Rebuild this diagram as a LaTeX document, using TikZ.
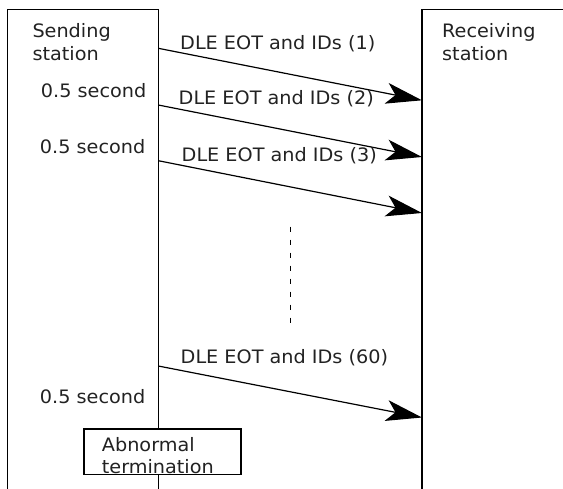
\documentclass[tikz,border=0pt]{standalone}
\usepackage{fontspec}
\setmainfont[FakeStretch=1.04]{DejaVu Sans}
\usetikzlibrary{arrows.meta}
\definecolor{txt}{HTML}{222222}
\tikzset{
  lbl/.style={inner sep=0pt, anchor=base west, text=txt, font=\fontsize{18.5}{22.5}\selectfont},
  rlbl/.style={inner sep=0pt, anchor=base east, text=txt, font=\fontsize{18.5}{22.5}\selectfont},
  frame/.style={line width=1.5pt},
  msg/.style={line width=1.2pt, -{Stealth[length=36pt, width=21pt, inset=9pt]}},
}
\begin{document}
\begin{tikzpicture}[x=1pt,y=-1pt]
\useasboundingbox (0,0) rectangle (563,488);
\clip (0,0) rectangle (563,488);
% station boxes
\draw[frame] (7.3,500) -- (7.3,9.3) -- (158.3,9.3) -- (158.3,500);
\draw[frame] (422,500) -- (422,9.3) -- (580,9.3);
\node[lbl] (snd) at (32.3,37.3) {\begin{tabular}[t]{@{}l@{}}Sending\\[0.5pt]station\end{tabular}};
\node[lbl] (rcv) at (442,37.3) {\begin{tabular}[t]{@{}l@{}}Receiving\\[0.5pt]station\end{tabular}};
% end points
\coordinate (s1) at (158.3,48.3);  \coordinate (r1) at (422,100.3);
\coordinate (s2) at (158.3,105);   \coordinate (r2) at (422,157);
\coordinate (s3) at (158.3,160.7); \coordinate (r3) at (422,213);
\coordinate (s60) at (158.3,366);  \coordinate (r60) at (422,417.5);
\draw[msg] (s1) -- (r1);
\draw[msg] (s2) -- (r2);
\draw[msg] (s3) -- (r3);
\draw[msg] (s60) -- (r60);
% message labels
\node[lbl] (m1) at (180,49) {DLE EOT and IDs (1)};
\node[lbl] (m2) at (178.5,104.5) {DLE EOT and IDs (2)};
\node[lbl] (m3) at (181.5,161.5) {DLE EOT and IDs (3)};
\node[lbl] (m60) at (180.5,363.3) {DLE EOT and IDs (60)};
% intervals
\node[rlbl] (t1) at (146.5,97.3) {0.5 second};
\node[rlbl] (t2) at (145.5,153.3) {0.5 second};
\node[rlbl] (t3) at (145.5,403.3) {0.5 second};
% continuation
\coordinate (d1) at (290.7,226.7);
\coordinate (d2) at (290.7,325);
\draw[line width=1pt, dash pattern=on 5pt off 8pt] (d1) -- (d2);
% abnormal termination
\draw[line width=1.1pt, fill=white] (84,429) rectangle (241,474.3);
\node[lbl] (abn) at (101.7,451.7) {\begin{tabular}[t]{@{}l@{}}Abnormal\\[-1pt]termination\end{tabular}};
\end{tikzpicture}
\end{document}
